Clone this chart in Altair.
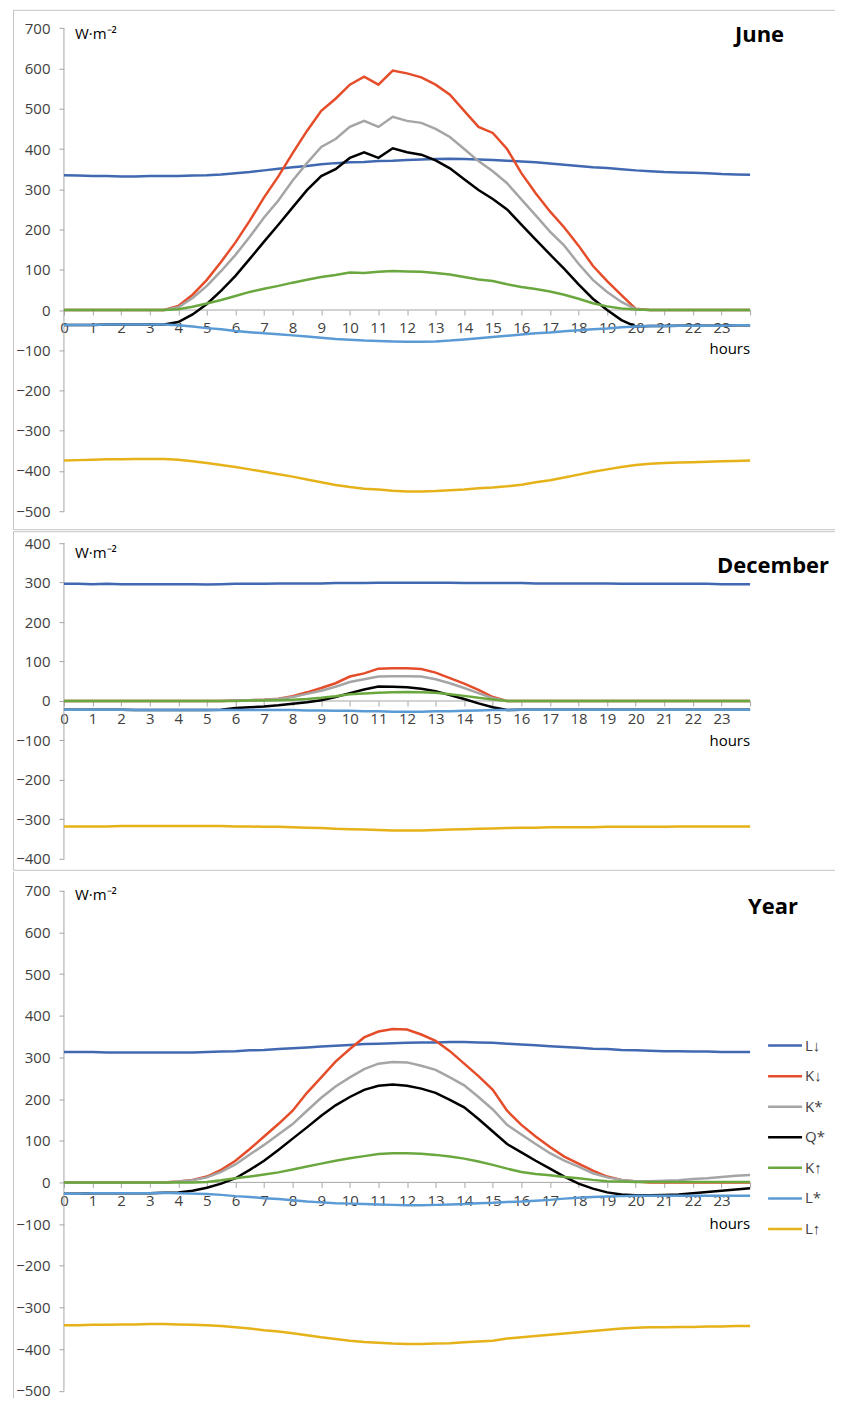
import altair as alt
import pandas as pd

# ---------------- data ----------------
HOURS = [i / 2 for i in range(49)]          # 0, 0.5, ... 24 h
SERIES = ["L↓", "K↓", "K*", "Q*", "K↑", "L*", "L↑"]
COLORS = ["#4169b1", "#e54d2a", "#a5a5a5", "#000000", "#6aa83f", "#5b9bd5", "#e6b21a"]
PANELS = ["June", "December", "Year"]
UNIT = "W·m⁻²"
X_TICKS = list(range(25))
JUNE_Y_TICKS = list(range(-500, 701, 100))
DEC_Y_TICKS = list(range(-400, 401, 100))
YEAR_Y_TICKS = list(range(-500, 701, 100))

JUNE_L_DOWN = [335, 334, 333, 333, 332, 332, 333, 333, 333, 334, 335, 337, 340, 343, 347, 351, 355, 358, 362, 365,
               367, 368, 370, 371, 373, 374, 375, 376, 375, 374, 373, 371, 369, 367, 364, 361, 358, 355, 353, 350,
               347, 345, 343, 342, 341, 340, 338, 337, 336]
JUNE_K_DOWN = [0, 0, 0, 0, 0, 0, 0, 0, 10, 38, 75, 120, 168, 222, 280, 332, 390, 445, 495, 525,
               560, 580, 560, 595, 588, 578, 560, 535, 495, 455, 440, 400, 340, 290, 245, 205, 160, 110, 72, 37,
               3, 0, 0, 0, 0, 0, 0, 0, 0]
JUNE_K_STAR = [0, 0, 0, 0, 0, 0, 0, 0, 7, 30, 60, 97, 137, 182, 230, 272, 322, 365, 405, 425,
               455, 470, 455, 480, 470, 465, 450, 430, 400, 370, 345, 315, 275, 235, 195, 160, 115, 75, 45, 20,
               2, 0, 0, 0, 0, 0, 0, 0, 0]
JUNE_Q_STAR = [-37, -37, -37, -36, -36, -36, -36, -36, -30, -11, 15, 48, 85, 127, 170, 212, 255, 298, 333, 350,
               378, 392, 378, 402, 392, 386, 372, 352, 325, 298, 276, 250, 212, 175, 138, 102, 64, 28, 0, -25,
               -41, -40, -40, -39, -39, -39, -39, -38, -38]
JUNE_K_UP = [0, 0, 0, 0, 0, 0, 0, 0, 2, 8, 16, 25, 35, 45, 53, 60, 68, 75, 82, 87,
             93, 92, 95, 97, 96, 95, 92, 88, 82, 76, 72, 64, 57, 52, 46, 38, 28, 17, 9, 4,
             1, 0, 0, 0, 0, 0, 0, 0, 0]
JUNE_L_STAR = [-37, -37, -37, -36, -36, -36, -36, -36, -38, -41, -45, -48, -52, -55, -58, -60, -63, -66, -69, -72,
               -74, -76, -77, -78, -79, -79, -78, -76, -73, -70, -67, -64, -61, -58, -56, -53, -50, -48, -46, -43,
               -41, -40, -40, -39, -39, -39, -39, -38, -38]
JUNE_L_UP = [-374, -373, -372, -371, -371, -370, -370, -370, -372, -376, -380, -385, -390, -396, -402, -408, -414,
             -421, -428, -435, -440, -444, -446, -449, -451, -451, -450, -448, -446, -443, -441, -438, -434, -428,
             -423, -416, -409, -402, -396, -390, -385, -382, -380, -379, -378, -377, -376, -375, -374]

DEC_L_DOWN = [297, 297, 296, 297, 296, 296, 296, 296, 296, 296, 295, 296, 297, 297, 297, 298, 298, 298, 298, 299,
              299, 299, 300, 300, 300, 300, 300, 300, 299, 299, 299, 299, 299, 298, 298, 298, 298, 298, 298, 297,
              297, 297, 297, 297, 297, 297, 296, 296, 296]
DEC_K_DOWN = [0, 0, 0, 0, 0, 0, 0, 0, 0, 0, 0, 0, 1, 2, 3, 6, 12, 22, 33, 45,
              62, 70, 82, 83, 83, 81, 72, 58, 44, 28, 10, 0, 0, 0, 0, 0, 0, 0, 0, 0,
              0, 0, 0, 0, 0, 0, 0, 0, 0]
DEC_K_STAR = [0, 0, 0, 0, 0, 0, 0, 0, 0, 0, 0, 0, 1, 2, 3, 5, 10, 18, 26, 36,
              48, 55, 62, 63, 63, 62, 55, 45, 33, 20, 7, 0, 0, 0, 0, 0, 0, 0, 0, 0,
              0, 0, 0, 0, 0, 0, 0, 0, 0]
DEC_Q_STAR = [-22, -22, -22, -22, -22, -23, -23, -23, -23, -23, -23, -22, -18, -16, -14, -11, -7, -3, 2, 10,
              20, 29, 37, 36, 35, 31, 25, 15, 5, -6, -16, -23, -22, -22, -22, -22, -22, -22, -22, -22,
              -22, -22, -22, -22, -22, -22, -22, -22, -22]
DEC_K_UP = [0, 0, 0, 0, 0, 0, 0, 0, 0, 0, 0, 0, 0, 1, 1, 2, 3, 5, 8, 12,
            17, 19, 21, 22, 23, 22, 21, 17, 13, 8, 4, 0, 0, 0, 0, 0, 0, 0, 0, 0,
            0, 0, 0, 0, 0, 0, 0, 0, 0]
DEC_L_STAR = [-22, -22, -22, -22, -22, -23, -23, -23, -23, -23, -23, -23, -23, -23, -23, -23, -23, -24, -24, -25,
              -25, -26, -26, -27, -27, -27, -26, -26, -25, -24, -23, -23, -22, -22, -22, -22, -22, -22, -22, -22,
              -22, -22, -22, -22, -22, -22, -22, -22, -22]
DEC_L_UP = [-318, -318, -318, -318, -317, -317, -317, -317, -317, -317, -317, -317, -318, -318, -319, -319, -320,
            -321, -322, -324, -325, -326, -327, -328, -328, -328, -327, -326, -325, -324, -323, -322, -321, -321,
            -320, -320, -320, -320, -319, -319, -319, -319, -319, -318, -318, -318, -318, -318, -318]

YEAR_L_DOWN = [313, 313, 313, 312, 312, 312, 312, 312, 312, 312, 313, 314, 315, 317, 318, 320, 322, 324, 326, 328,
               330, 332, 333, 334, 335, 336, 336, 337, 337, 336, 335, 333, 331, 329, 327, 325, 323, 321, 320, 318,
               317, 316, 315, 315, 314, 314, 313, 313, 313]
YEAR_K_DOWN = [0, 0, 0, 0, 0, 0, 0, 0, 2, 6, 14, 30, 52, 80, 110, 140, 172, 215, 252, 290,
               320, 348, 362, 368, 367, 355, 340, 315, 285, 255, 222, 172, 138, 110, 85, 62, 45, 28, 14, 6,
               2, 0, 0, 0, 0, 0, 0, 0, 0]
YEAR_K_STAR = [0, 0, 0, 0, 0, 0, 0, 0, 2, 5, 12, 25, 43, 67, 90, 115, 140, 172, 203, 230,
               252, 272, 285, 289, 288, 280, 270, 252, 233, 205, 175, 138, 115, 92, 70, 52, 38, 22, 12, 6,
               3, 3, 4, 5, 8, 10, 13, 16, 18]
YEAR_Q_STAR = [-27, -27, -26, -26, -26, -26, -26, -25, -24, -20, -13, -3, 10, 30, 52, 78, 105, 132, 160, 185,
               205, 222, 232, 235, 232, 225, 215, 198, 180, 152, 122, 92, 72, 52, 33, 14, -3, -15, -24, -29,
               -31, -31, -30, -29, -26, -23, -20, -17, -14]
YEAR_K_UP = [0, 0, 0, 0, 0, 0, 0, 0, 0, 0, 1, 5, 10, 14, 19, 24, 31, 38, 45, 52,
             58, 63, 68, 70, 70, 69, 66, 62, 57, 50, 42, 33, 25, 20, 17, 13, 10, 6, 3, 2,
             1, 1, 1, 1, 1, 1, 1, 1, 1]
YEAR_L_STAR = [-27, -27, -26, -26, -26, -26, -26, -25, -26, -27, -28, -30, -33, -35, -38, -40, -43, -46, -48, -50,
               -51, -52, -53, -54, -55, -55, -54, -53, -52, -50, -49, -47, -46, -44, -42, -39, -37, -35, -34, -33,
               -32, -32, -32, -32, -32, -32, -32, -32, -32]
YEAR_L_UP = [-343, -343, -342, -342, -341, -341, -340, -340, -341, -342, -343, -345, -348, -351, -355, -358, -362,
             -367, -372, -376, -380, -383, -385, -387, -388, -388, -387, -386, -384, -382, -380, -375, -372, -369,
             -366, -363, -360, -357, -354, -351, -349, -348, -348, -347, -347, -346, -346, -345, -345]

# ---------------- layout / style ----------------
FONT = "Open Sans"
TXT = "#404040"
AXIS_C = "#a6a6a6"
FRAME_C = "#c4c4c4"
W = 830
X_DOMAIN = [-1.7817, 27.214]


def x_px(h):
    return (h - X_DOMAIN[0]) / (X_DOMAIN[1] - X_DOMAIN[0]) * W


def panel(name, lists, ydom, height, yticks, title_x, title_y, unit_y, hours_dy, legend, framed):
    rows = []
    for s, vals in zip(SERIES, lists):
        for h, v in zip(HOURS, vals):
            rows.append({"hour": h, "value": v, "series": s})
    df = pd.DataFrame(rows)

    xs = alt.Scale(domain=X_DOMAIN, nice=False, zero=False)
    ys = alt.Scale(domain=ydom, nice=False, zero=False)
    y0 = ydom[1] / (ydom[1] - ydom[0]) * height

    xaxis = alt.Axis(values=X_TICKS, labelExpr="datum.value < 24 ? datum.label : ''",
                     offset=y0 - height, domain=False, grid=False, ticks=True, tickSize=5,
                     tickColor=AXIS_C, tickWidth=1, labelFontSize=15, labelColor=TXT, labelFont=FONT,
                     labelPadding=6, labelFlush=False, labelOverlap=False,
                     title=None, minExtent=0)
    yaxis = alt.Axis(values=yticks, offset=-x_px(0), domain=False, grid=False, tickSize=5,
                     tickColor=AXIS_C, tickWidth=1, labelFontSize=15, labelColor=TXT, labelFont=FONT,
                     labelPadding=9, labelFlush=False, labelOverlap=False, title=None, minExtent=0)

    lines = alt.Chart(df).mark_line(strokeWidth=2.5).encode(
        x=alt.X("hour:Q", scale=xs, axis=xaxis),
        y=alt.Y("value:Q", scale=ys, axis=yaxis),
        color=alt.Color("series:N", scale=alt.Scale(domain=SERIES, range=COLORS),
                        sort=SERIES, legend=legend),
    )

    xline = alt.Chart(pd.DataFrame({"h0": [0], "h1": [24], "v": [0]})).mark_rule(
        color=AXIS_C, strokeWidth=1).encode(
        x=alt.X("h0:Q", scale=xs, axis=xaxis), x2="h1:Q",
        y=alt.Y("v:Q", scale=ys, axis=yaxis))
    yline = alt.Chart(pd.DataFrame({"h": [0], "v0": [yticks[0]], "v1": [yticks[-1]]})).mark_rule(
        color=AXIS_C, strokeWidth=1).encode(
        x=alt.X("h:Q", scale=xs, axis=xaxis),
        y=alt.Y("v0:Q", scale=ys, axis=yaxis), y2="v1:Q")

    title = alt.Chart(pd.DataFrame({"t": [name]})).mark_text(
        font=FONT, fontSize=22, fontWeight="bold", align="right", baseline="alphabetic",
        color="#000000").encode(x=alt.value(title_x), y=alt.value(title_y), text="t:N")
    unit = alt.Chart(pd.DataFrame({"t": [UNIT]})).mark_text(
        font=FONT, fontSize=15, align="left", baseline="alphabetic", color="#000000").encode(
        x=alt.value(x_px(0) + 11), y=alt.value(unit_y), text="t:N")
    hours = alt.Chart(pd.DataFrame({"h": [24], "v": [0], "t": ["hours"]})).mark_text(
        font=FONT, fontSize=15, align="right", baseline="alphabetic", dy=hours_dy,
        color="#000000").encode(
        x=alt.X("h:Q", scale=xs, axis=xaxis), y=alt.Y("v:Q", scale=ys, axis=yaxis), text="t:N")

    layers = [xline, yline, lines, title, unit, hours]
    if not framed:
        one = pd.DataFrame({"k": [1]})
        left = alt.Chart(one).mark_rule(color=FRAME_C, strokeWidth=1).encode(
            x=alt.value(0.5), y=alt.value(0), y2=alt.value(height))
        right = alt.Chart(one).mark_rule(color=FRAME_C, strokeWidth=1).encode(
            x=alt.value(W - 0.5), y=alt.value(0), y2=alt.value(height))
        layers += [left, right]

    ch = alt.layer(*layers).properties(width=W, height=height)
    if not framed:
        ch = ch.properties(view=alt.ViewBackground(strokeOpacity=0))
    return ch


june = panel(PANELS[0],
             [JUNE_L_DOWN, JUNE_K_DOWN, JUNE_K_STAR, JUNE_Q_STAR, JUNE_K_UP, JUNE_L_STAR, JUNE_L_UP],
             [-544.67, 745.91], 520, JUNE_Y_TICKS, 772, 32, 29, 44, None, True)
dec = panel(PANELS[1],
            [DEC_L_DOWN, DEC_K_DOWN, DEC_K_STAR, DEC_Q_STAR, DEC_K_UP, DEC_L_STAR, DEC_L_UP],
            [-427.85, 430.38], 339, DEC_Y_TICKS, 817, 42, 27, 45, None, True)

year_legend = alt.Legend(orient="none", legendX=763, legendY=164, title=None,
                         symbolType="M-2,0H2", symbolSize=289, symbolStrokeWidth=2.5,
                         labelFontSize=15, labelColor=TXT, labelFont=FONT, labelOffset=10,
                         rowPadding=12.6, padding=0)
year = panel(PANELS[2],
             [YEAR_L_DOWN, YEAR_K_DOWN, YEAR_K_STAR, YEAR_Q_STAR, YEAR_K_UP, YEAR_L_STAR, YEAR_L_UP],
             [-517.98, 745.55], 527, YEAR_Y_TICKS, 786, 42, 28, 47, year_legend, False)

chart = alt.vconcat(june, dec, year, spacing=0).resolve_scale(
    color="independent"
).properties(
    padding={"left": 4, "top": 0, "right": -8, "bottom": 0}
).configure(
    font=FONT
).configure_view(
    stroke=FRAME_C, strokeWidth=1
)

chart.save("out.html", embed_options={"renderer": "svg", "actions": False})
